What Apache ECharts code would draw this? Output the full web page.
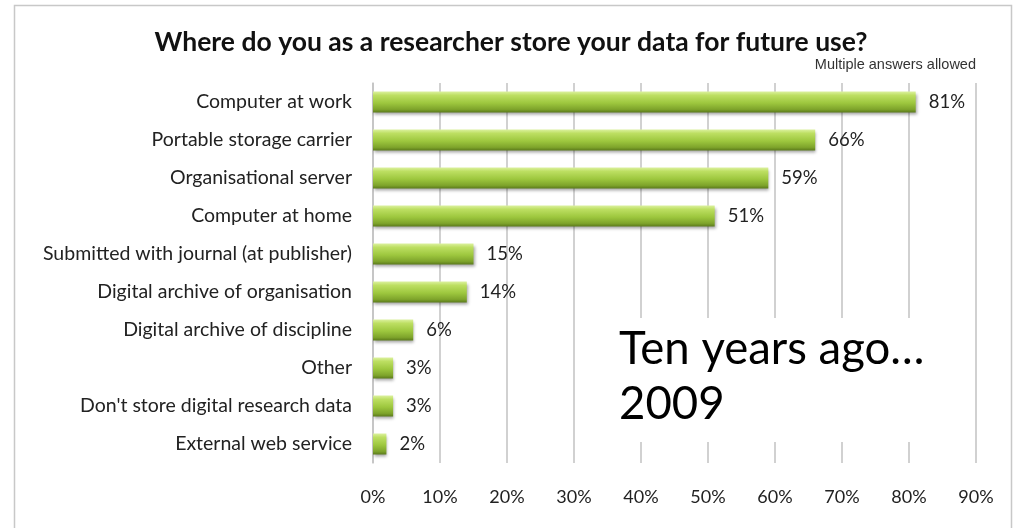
<!DOCTYPE html>
<html>
<head>
<meta charset="utf-8">
<script src="https://cdn.jsdelivr.net/npm/echarts@6/dist/echarts.min.js"></script>
<style>
html, body { margin: 0; padding: 0; background: #fff; }
#chart { width: 1022px; height: 528px; }
</style>
</head>
<body>
<div id="chart"></div>
<script>
var categories = ['Computer at work', 'Portable storage carrier', 'Organisational server', 'Computer at home',
	'Submitted with journal (at publisher)', 'Digital archive of organisation', 'Digital archive of discipline',
	'Other', "Don't store digital research data", 'External web service'];
var shares = [81, 66, 59, 51, 15, 14, 6, 3, 3, 2];
var axisTicks = [0, 90, 10]; // min, max, step

var myChart = echarts.init(document.getElementById('chart'));

var font = 'Lato, "Open Sans", sans-serif';

myChart.setOption({
	backgroundColor: '#fff',
	animation: false,
	title: {
		text: 'Where do you as a researcher store your data for future use?',
		left: 'center',
		top: 24,
		textStyle: { fontFamily: font, fontSize: 26.5, fontWeight: 'bold', color: '#111' }
	},
	grid: { left: 373, right: 46, top: 83, bottom: 65 },
	xAxis: {
		type: 'value',
		min: axisTicks[0],
		max: axisTicks[1],
		interval: axisTicks[2],
		axisLine: { show: false },
		axisTick: { show: false },
		axisLabel: { formatter: '{value}%', margin: 25, fontFamily: font, fontSize: 18, color: '#222' },
		splitLine: { lineStyle: { color: '#c2c2c2', width: 1.5 } }
	},
	yAxis: {
		type: 'category',
		inverse: true,
		data: categories,
		axisLine: { show: true, lineStyle: { color: '#c2c2c2', width: 1.5 } },
		axisTick: { show: false },
		axisLabel: { margin: 21, fontFamily: font, fontSize: 19.5, color: '#222' }
	},
	series: [{
		type: 'bar',
		data: shares,
		barWidth: 21,
		itemStyle: {
			color: new echarts.graphic.LinearGradient(0, 0, 0, 1, [
				{ offset: 0, color: '#dcf19f' },
				{ offset: 0.18, color: '#bddf62' },
				{ offset: 0.55, color: '#9dc73e' },
				{ offset: 0.85, color: '#7ea42b' },
				{ offset: 1, color: '#5b7a1b' }
			]),
			shadowColor: 'rgba(0,0,0,0.35)',
			shadowBlur: 3,
			shadowOffsetY: 2,
			shadowOffsetX: 1
		},
		label: {
			show: true,
			position: 'right',
			distance: 13,
			formatter: '{c}%',
			fontFamily: font,
			fontSize: 18.5,
			color: '#222'
		}
	}],
	graphic: [
		{
			type: 'rect',
			shape: { x: 14.5, y: 5.5, width: 997, height: 540 },
			style: { fill: null, stroke: '#c8c8c8', lineWidth: 1.5 },
			z: 0,
			silent: true
		},
		{
			type: 'text',
			right: 46,
			top: 57,
			style: { text: 'Multiple answers allowed', fontFamily: 'Liberation Sans, Arial, sans-serif', fontSize: 14.5, fill: '#333' }
		},
		{
			type: 'rect',
			shape: { x: 576, y: 318, width: 398, height: 124 },
			style: { fill: '#fff' },
			z: 50
		},
		{
			type: 'text',
			left: 619,
			top: 322,
			z: 51,
			style: {
				text: 'Ten years ago…\n2009',
				fontFamily: font,
				fontSize: 45.5,
				lineHeight: 55,
				fill: '#000'
			}
		}
	]
});
window.addEventListener('resize', function () {
	myChart.resize();
});
</script>
</body>
</html>
